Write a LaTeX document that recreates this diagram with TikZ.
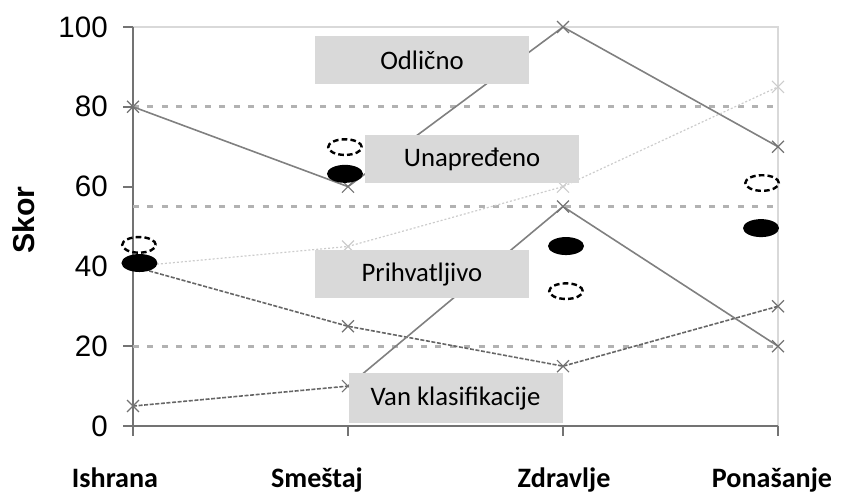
\documentclass[tikz,border=0pt]{standalone}
\usepackage{fontspec}
\setmainfont{Carlito}
\newfontfamily\arialfont{Liberation Sans}
\usetikzlibrary{shapes.geometric}
\begin{document}
\begin{tikzpicture}[x=5.375cm,y=0.09975cm,
    grid/.style={gray!60,line width=0.075cm,dash pattern=on 0.15cm off 0.21cm},
    serieA/.style={black!50,line width=0.04cm},
    serieB/.style={black!20,line width=0.03cm,dash pattern=on 0.05cm off 0.05cm},
    serieC/.style={black!60,line width=0.04cm,dash pattern=on 0.1cm off 0.04cm},
    band/.style={fill=gray!30,minimum width=5.35cm,minimum height=1.2cm,inner sep=0,font=\fontsize{19}{21}\selectfont},
    ocjena/.style={ellipse,fill=black,minimum width=0.9cm,minimum height=0.45cm,inner sep=0},
    cilj/.style={ellipse,draw=black,line width=0.06cm,dash pattern=on 0.14cm off 0.08cm,minimum width=0.84cm,minimum height=0.39cm,inner sep=0},
    broj/.style={anchor=east,inner sep=0,xshift=-0.625cm,font=\arialfont\fontsize{21}{23}\selectfont},
    oblast/.style={anchor=base,inner sep=0,font=\bfseries\fontsize{20}{22}\selectfont}]
    \useasboundingbox (-3.325cm,-1.725cm) rectangle (17.7cm,10.65cm);
    % okvir i ose
    \draw[gray!30,line width=0.04cm] (0,100) -- (3,100) -- (3,0);
    \draw[black!55,line width=0.05cm] (0,100) -- (0,0) -- (3,0);
    \foreach \v in {0,20,...,100} {
        \draw[black!55,line width=0.05cm] (0,\v) -- ++(-0.25cm,0);
        \node[broj] at (0,\v) {\v};
    }
    \foreach \c in {0,1,2,3}
        \draw[black!55,line width=0.05cm] (\c,0) -- ++(0,-0.25cm);
    % granice kategorija
    \draw[grid] (0,80) -- (3,80);
    \draw[grid] (0,55) -- (3,55);
    \draw[grid] (0,20) -- (3,20);
    % serije
    \draw[serieA] (0,80) -- (1,60) -- (2,100) -- (3,70);
    \draw[serieB] (0,40) -- (1,45) -- (2,60) -- (3,85);
    \draw[serieC] (0,40) -- (1,25) -- (2,15) -- (3,30);
    \draw[serieC] (0,5) -- (1,10);
    \draw[serieA] (1,10) -- (2,55) -- (3,20);
    \path[draw=black!55,line width=0.03cm,mark=x,mark size=6pt] plot[only marks] coordinates {(0,80) (1,60) (2,100) (3,70) (1,25) (2,15) (3,30) (0,5) (1,10) (2,55) (3,20)};
    \path[draw=black!20,line width=0.03cm,mark=x,mark size=6pt] plot[only marks] coordinates {(1,45) (2,60) (3,85)};
    % oznake kategorija
    \node[band] (odl) at (1.344,91.7) {Odlično};
    \node[band] (una) at (1.577,66.9) {Unapređeno};
    \node[band] (pri) at (1.344,38.0) {Prihvatljivo};
    \node[band,minimum height=1.25cm] (van) at (1.5,7.0) {Van klasifikacije};
    % ciljevi i ocjene
    \node[cilj] (c1) at (0.028,45.4) {};
    \node[cilj] (c2) at (0.986,69.9) {};
    \node[cilj] (c3) at (2.014,33.8) {};
    \node[cilj] (c4) at (2.926,60.9) {};
    \node[ocjena] (o1) at (0.03,40.85) {};
    \node[ocjena] (o2) at (0.986,63.2) {};
    \node[ocjena] (o3) at (2.014,45.1) {};
    \node[ocjena] (o4) at (2.921,49.6) {};
    % natpisi osa
    \node[rotate=90,anchor=base,inner sep=0,font=\arialfont\bfseries\fontsize{21.5}{23}\selectfont] (skor) at (-0.456,51.6) {Skor};
    \node[oblast] (ish) at (-0.084,-15.5) {Ishrana};
    \node[oblast] (sme) at (0.856,-15.5) {Smeštaj};
    \node[oblast] (zdr) at (2.005,-15.5) {Zdravlje};
    \node[oblast] (pon) at (2.972,-15.5) {Ponašanje};
\end{tikzpicture}
\end{document}
